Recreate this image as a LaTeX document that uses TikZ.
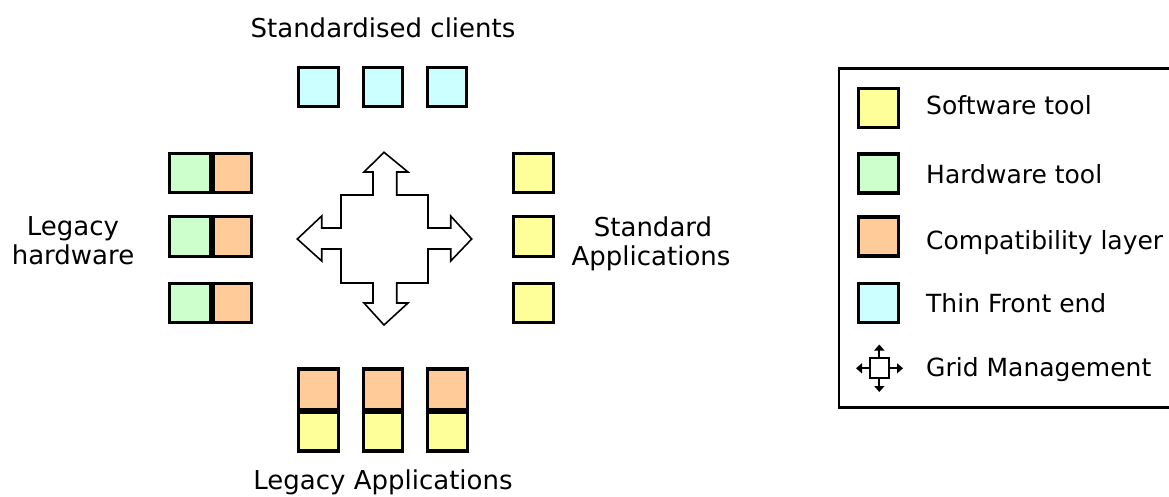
\documentclass[tikz,border=0pt]{standalone}
\usepackage{fontspec}
\setmainfont{DejaVu Sans}
\usetikzlibrary{arrows.meta}
\definecolor{swcol}{HTML}{FFFF99}
\definecolor{hwcol}{HTML}{CCFFCC}
\definecolor{cpcol}{HTML}{FFCC99}
\definecolor{fecol}{HTML}{CCFFFF}
\begin{document}
\begin{tikzpicture}[x=1pt,y=-1pt,
  box/.style={draw=black,line width=3.4pt,inner sep=0pt,minimum width=39.5pt,minimum height=39.5pt},
  sw/.style={box,fill=swcol},
  hw/.style={box,fill=hwcol},
  cp/.style={box,fill=cpcol},
  fe/.style={box,fill=fecol},
  divider/.style={line width=5pt},
  lbl/.style={font=\fontsize{26}{30}\selectfont,inner sep=0pt,anchor=base},
  leglbl/.style={font=\fontsize{25}{30}\selectfont,inner sep=0pt,anchor=base west},
  gridarrow/.style={line width=1.6pt},
  mini/.style={line width=2.2pt,-{Triangle[length=6pt,width=10pt]}}
]
\useasboundingbox (0,0) rectangle (1169,496);
\fill[white] (0,0) rectangle (1169,496);

% Standardised clients
\node[lbl] (tclients) at (383,37.7) {Standardised clients};
\node[fe] (fe1) at (318.5,87) {};
\node[fe] (fe2) at (383,87) {};
\node[fe] (fe3) at (447,87) {};

% Legacy hardware
\foreach \i/\y in {1/173,2/236.5,3/303}{
  \node[hw,minimum width=41.5pt] (hw\i) at (190,\y) {};
  \node[cp,minimum width=40.5pt] (hc\i) at (231.5,\y) {};
  \draw[divider] (hw\i.north east) -- (hw\i.south east);
}
\node[lbl] (tlh1) at (73,235.7) {Legacy};
\node[lbl] (tlh2) at (73,264) {hardware};

% Standard applications
\node[sw] (sa1) at (533.5,173) {};
\node[sw] (sa2) at (533.5,236.5) {};
\node[sw] (sa3) at (533.5,303) {};
\node[lbl] (tsa1) at (653,236.7) {Standard};
\node[lbl] (tsa2) at (651,265.7) {Applications};

% Legacy applications
\foreach \i/\x in {1/318.5,2/383,3/447.5}{
  \node[cp,minimum height=41pt] (lc\i) at (\x,389.5) {};
  \node[sw,minimum height=41pt] (ls\i) at (\x,430.5) {};
  \draw[divider] (lc\i.south west) -- (lc\i.south east);
}
\node[lbl] (tla) at (383,489) {Legacy Applications};

% Grid management cross
\draw[gridarrow,fill=white,line join=miter]
  (373,172) -- (373,195) -- (341,195) -- (341,228) -- (321.7,228) -- (321.7,216)
  -- (297.3,239) -- (321.7,261) -- (321.7,249) -- (341,249) -- (341,283) -- (373,283)
  -- (373,303) -- (364,303) -- (384,325) -- (408,303) -- (396.7,303) -- (396.7,283)
  -- (428,283) -- (428,249) -- (450.7,249) -- (450.7,261) -- (471.7,239) -- (450.7,216)
  -- (450.7,228) -- (428,228) -- (428,195) -- (396.7,195) -- (396.7,172) -- (408,172)
  -- (384,152.3) -- (364,172) -- cycle;

% Legend
\draw[line width=2.3pt] (1169,68.5) -- (838.8,68.5) -- (838.8,407.5) -- (1169,407.5);
\node[sw,minimum height=39pt] (lg1) at (878.5,107.7) {};
\node[hw,minimum height=39pt] (lg2) at (878.5,173.5) {};
\node[cp,minimum height=39pt] (lg3) at (878.5,236.3) {};
\node[fe,minimum height=39pt] (lg4) at (878.5,302.8) {};
\node[leglbl] (tl1) at (926,114.3) {Software tool};
\node[leglbl] (tl2) at (926,183.3) {Hardware tool};
\node[leglbl] (tl3) at (926,249) {Compatibility layer};
\node[leglbl] (tl4) at (926,312.3) {Thin Front end};
\node[leglbl] (tl5) at (926,376) {Grid Management};

% Legend grid icon
\node[draw=black,line width=2pt,fill=white,inner sep=0pt,minimum width=19pt,minimum height=20pt] (icon) at (879.3,368.3) {};
\coordinate (itop) at (879.3,344.5);
\coordinate (ibot) at (879.3,392);
\coordinate (ileft) at (856,368.3);
\coordinate (iright) at (903,368.3);
\draw[mini] (icon.north) -- (itop);
\draw[mini] (icon.south) -- (ibot);
\draw[mini] (icon.west) -- (ileft);
\draw[mini] (icon.east) -- (iright);
\end{tikzpicture}
\end{document}
